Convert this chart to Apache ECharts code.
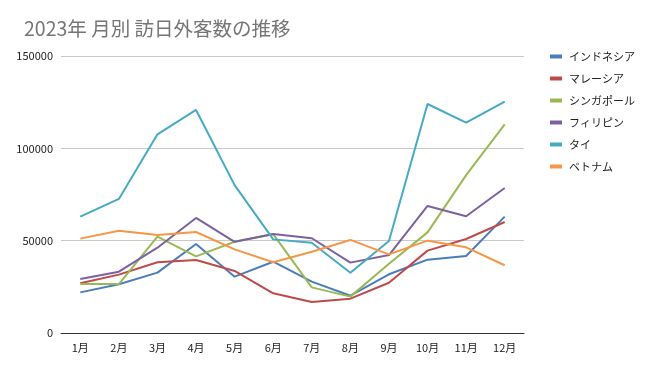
<!DOCTYPE html>
<html><head><meta charset="utf-8">
<script src="https://cdn.jsdelivr.net/npm/echarts@6/dist/echarts.min.js"></script>
<style>html,body{margin:0;padding:0;background:#fff}#c{width:651px;height:371px}</style>
</head><body><div id="c"></div>
<script>
const months = ['1月','2月','3月','4月','5月','6月','7月','8月','9月','10月','11月','12月'];
const seriesNames = ['インドネシア','マレーシア','シンガポール','フィリピン','タイ','ベトナム'];
const indonesia = [22000,26400,32700,48200,30500,38600,27800,20200,31800,39700,41700,63000];
const malaysia  = [26900,31600,38300,39500,33600,21500,16800,18600,27200,44600,50900,60100];
const singapore = [26500,26500,52200,41500,49400,53500,24700,19700,37500,54500,85500,113000];
const philippines = [29200,33200,46200,62300,49400,53600,51300,38100,42200,68800,63200,78500];
const thailand  = [63000,72600,107600,120800,80100,50700,48900,32600,49800,124000,113900,125300];
const vietnam   = [51100,55400,53100,54700,45300,38300,44000,50400,42600,50000,46400,36700];
const colors = ['#4a7ebb','#be4b48','#98b954','#7d60a0','#46aac5','#f79646'];
const dataSets = [indonesia, malaysia, singapore, philippines, thailand, vietnam];
const font = "'Noto Sans CJK JP', 'Noto Sans', sans-serif";

const chart = echarts.init(document.getElementById('c'));
chart.setOption({
  animation: false,
  title: { text: '2023年 月別 訪日外客数の推移', left: 19, top: 14,
    textStyle: { fontFamily: font, fontSize: 19.5, fontWeight: 'normal', color: '#757575' } },
  legend: {
    orient: 'vertical', left: 545, top: 46, itemGap: 11, itemWidth: 12, itemHeight: 4,
    icon: 'rect',
    textStyle: { fontFamily: font, fontSize: 11, color: '#222', padding: [0,0,0,2] },
    data: seriesNames
  },
  grid: { left: 61, right: 127, top: 56, bottom: 38 },
  xAxis: {
    type: 'category', data: months, boundaryGap: true,
    axisLine: { lineStyle: { color: '#333', width: 1 } },
    axisTick: { show: false },
    axisLabel: { fontFamily: font, fontSize: 11, color: '#222', margin: 9 }
  },
  yAxis: {
    type: 'value', min: 0, max: 150000, interval: 50000,
    axisLine: { show: false }, axisTick: { show: false },
    axisLabel: { fontFamily: font, fontSize: 11, color: '#222', margin: 8, formatter: v => String(v) },
    splitLine: { lineStyle: { color: '#c8c8c8' } }
  },
  series: seriesNames.map((n, i) => ({
    name: n, type: 'line', data: dataSets[i], showSymbol: false, symbol: 'none',
    lineStyle: { width: 2, color: colors[i] }, itemStyle: { color: colors[i] }
  }))
});
</script></body></html>
